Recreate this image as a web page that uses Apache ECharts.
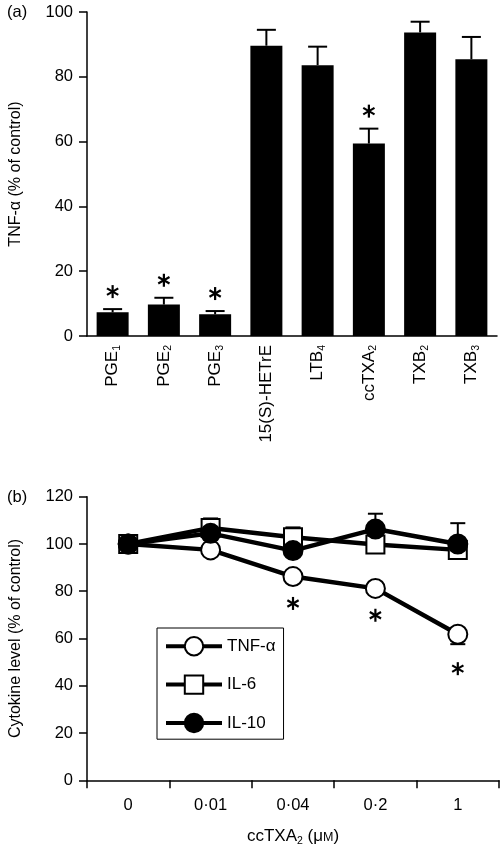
<!DOCTYPE html>
<html><head><meta charset="utf-8">
<script src="https://cdn.jsdelivr.net/npm/echarts@6/dist/echarts.min.js"></script>
<style>html,body{margin:0;padding:0;background:#fff}#c{width:500px;height:850px}</style>
</head><body><div id="c"></div>
<script>
// ---- Panel (a) data ----
const barCategories = ['PGE_1', 'PGE_2', 'PGE_3', '15(S)-HETrE', 'LTB_4', 'ccTXA_2', 'TXB_2', 'TXB_3'];
const barValues = [7.3, 9.7, 6.7, 89.6, 83.6, 59.4, 93.7, 85.4];
const barErrors = [1.0, 2.1, 1.0, 4.9, 5.7, 4.6, 3.3, 6.9];
const barSignificant = [1, 1, 1, 0, 0, 1, 0, 0];
const yTicksA = [0, 20, 40, 60, 80, 100];

// ---- Panel (b) data ----
const doseLabels = ['0', '0·01', '0·04', '0·2', '1'];
const tnfValues = [100, 97.5, 86.2, 81.2, 61.8];
const tnfErrors = [1, 1, 1, 1, 4.2];
const il6Values = [100, 106.8, 102.8, 99.8, 97.5];
const il6Errors = [1, 4.0, 4.2, 1, 1];
const il10Values = [100, 104.5, 97.2, 106.3, 100];
const il10Errors = [1, 1, 1, 6.5, 8.8];
const tnfSignificant = [0, 0, 1, 1, 1];
const yTicksB = [0, 20, 40, 60, 80, 100, 120];

const FONT = '"Liberation Sans", Arial, Helvetica, sans-serif';

function subLabel(v) {
  const parts = v.split('_');
  let s = '{m|' + parts[0] + '}';
  if (parts[1]) s += '{s|' + parts[1] + '}';
  return s;
}

function asteriskShape(cx, cy) {
  const r = 6.5, ch = [];
  for (let k = 0; k < 3; k++) {
    const a = Math.PI / 2 + k * Math.PI / 3;
    ch.push({type: 'line', shape: {x1: cx - r * Math.cos(a), y1: cy - r * Math.sin(a), x2: cx + r * Math.cos(a), y2: cy + r * Math.sin(a)},
      style: {stroke: '#000', lineWidth: 2.2}});
  }
  return ch;
}

function errBar(dir, halfCap) {
  return function (params, api) {
    const x = api.value(0), v = api.value(1), e = api.value(2);
    const p0 = api.coord([x, v]);
    const p1 = api.coord([x, v + dir * e]);
    return {type: 'group', children: [
      {type: 'line', shape: {x1: p0[0], y1: p0[1], x2: p1[0], y2: p1[1]}, style: {stroke: '#000', lineWidth: 2}},
      {type: 'line', shape: {x1: p1[0] - halfCap, y1: p1[1], x2: p1[0] + halfCap, y2: p1[1]}, style: {stroke: '#000', lineWidth: 2}}
    ]};
  };
}

function starRender(dir, offset) {
  return function (params, api) {
    if (!api.value(3)) return null;
    const x = api.value(0), v = api.value(1), e = api.value(2);
    const p = api.coord([x, v + dir * e]);
    return {type: 'group', children: asteriskShape(p[0], p[1] - dir * offset)};
  };
}

const axisLineStyle = {lineStyle: {color: '#000', width: 1.5}};
const tickLabelStyle = {color: '#000', fontSize: 16.5, fontFamily: FONT};

const chart = echarts.init(document.getElementById('c'), null, {renderer: 'canvas'});
chart.setOption({
  animation: false,
  backgroundColor: '#fff',
  textStyle: {fontFamily: FONT},
  graphic: [
    {type: 'text', left: 7, top: 4, style: {text: '(a)', fontSize: 16.5, fill: '#000', fontFamily: FONT}},
    {type: 'text', left: 7, top: 489, style: {text: '(b)', fontSize: 16.5, fill: '#000', fontFamily: FONT}}
  ],
  grid: [
    {left: 84, top: 12, width: 413, height: 324},
    {left: 84, top: 496.7, width: 415, height: 283.6}
  ],
  xAxis: [
    {type: 'category', gridIndex: 0, data: barCategories,
      axisLine: axisLineStyle, axisTick: {show: false},
      axisLabel: {rotate: 90, margin: 9, interval: 0, formatter: subLabel,
        rich: {
          m: {fontSize: 17, lineHeight: 20, color: '#000', fontFamily: FONT},
          s: {fontSize: 10.5, lineHeight: 10, verticalAlign: 'bottom', color: '#000', fontFamily: FONT}
        }}},
    {type: 'category', gridIndex: 1, data: doseLabels, boundaryGap: true,
      axisLine: axisLineStyle, axisTick: {show: true, length: 8, inside: false, lineStyle: {color: '#000', width: 1.5}},
      axisLabel: Object.assign({margin: 17, interval: 0}, tickLabelStyle),
      name: '{m|ccTXA}{s|2}{m| (μ}{k|M}{m|)}', nameLocation: 'middle', nameGap: 46,
      nameTextStyle: {rich: {
        m: {fontSize: 17, lineHeight: 20, color: '#000', fontFamily: FONT},
        k: {fontSize: 12.5, lineHeight: 20, color: '#000', fontFamily: FONT, padding: [2, 0, 0, 0]},
        s: {fontSize: 10.5, lineHeight: 10, verticalAlign: 'bottom', color: '#000', fontFamily: FONT}
      }}}
  ],
  yAxis: [
    {type: 'value', gridIndex: 0, min: yTicksA[0], max: yTicksA[yTicksA.length - 1], interval: yTicksA[1] - yTicksA[0],
      splitLine: {show: false}, axisLine: {show: true, lineStyle: {color: '#000', width: 1.5}},
      axisTick: {show: true, length: 8, lineStyle: {color: '#000', width: 1.5}},
      axisLabel: Object.assign({margin: 14}, tickLabelStyle),
      name: 'TNF-α (% of control)', nameLocation: 'middle', nameGap: 63,
      nameTextStyle: {fontSize: 16, color: '#000', fontFamily: FONT}},
    {type: 'value', gridIndex: 1, min: yTicksB[0], max: yTicksB[yTicksB.length - 1], interval: yTicksB[1] - yTicksB[0],
      splitLine: {show: false}, axisLine: {show: true, lineStyle: {color: '#000', width: 1.5}},
      axisTick: {show: true, length: 8, lineStyle: {color: '#000', width: 1.5}},
      axisLabel: Object.assign({margin: 14}, tickLabelStyle),
      name: 'Cytokine level (% of control)', nameLocation: 'middle', nameGap: 63,
      nameTextStyle: {fontSize: 16, color: '#000', fontFamily: FONT}}
  ],
  legend: {
    orient: 'vertical', left: 157, top: 628, itemWidth: 56, itemHeight: 23, itemGap: 18,
    padding: [8, 8, 6, 7], borderColor: '#000', borderWidth: 1,
    textStyle: {fontSize: 17, color: '#000', fontFamily: FONT},
    lineStyle: {width: 4, color: '#000'}, itemStyle: {borderWidth: 2, borderColor: '#000'},
    data: ['TNF-α', 'IL-6', 'IL-10']
  },
  series: [
    {type: 'custom', xAxisIndex: 0, yAxisIndex: 0, z: 1, renderItem: errBar(1, 9.5),
      data: barValues.map((v, i) => [i, v, barErrors[i]]), silent: true},
    {type: 'bar', xAxisIndex: 0, yAxisIndex: 0, data: barValues, barWidth: 32, itemStyle: {color: '#000'}, z: 2},
    {type: 'custom', xAxisIndex: 0, yAxisIndex: 0, z: 3, renderItem: starRender(1, 17.5),
      data: barValues.map((v, i) => [i, v, barErrors[i], barSignificant[i]]), silent: true},

    {type: 'custom', xAxisIndex: 1, yAxisIndex: 1, z: 1, renderItem: errBar(-1, 7.5),
      data: tnfValues.map((v, i) => [i, v, tnfErrors[i]]), silent: true},
    {type: 'custom', xAxisIndex: 1, yAxisIndex: 1, z: 1, renderItem: errBar(1, 7.5),
      data: il6Values.map((v, i) => [i, v, il6Errors[i]]), silent: true},
    {type: 'custom', xAxisIndex: 1, yAxisIndex: 1, z: 1, renderItem: errBar(1, 7.5),
      data: il10Values.map((v, i) => [i, v, il10Errors[i]]), silent: true},
    {type: 'custom', xAxisIndex: 1, yAxisIndex: 1, z: 3, renderItem: starRender(-1, 24.5),
      data: tnfValues.map((v, i) => [i, v, tnfErrors[i], tnfSignificant[i]]), silent: true},

    {name: 'TNF-α', type: 'line', xAxisIndex: 1, yAxisIndex: 1, data: tnfValues, z: 2,
      symbol: 'circle', symbolSize: 19, showAllSymbol: true,
      lineStyle: {color: '#000', width: 4.5},
      itemStyle: {color: '#fff', borderColor: '#000', borderWidth: 2}},
    {name: 'IL-6', type: 'line', xAxisIndex: 1, yAxisIndex: 1, data: il6Values, z: 2,
      symbol: 'rect', symbolSize: 18, showAllSymbol: true,
      lineStyle: {color: '#000', width: 4.5},
      itemStyle: {color: '#fff', borderColor: '#000', borderWidth: 2}},
    {name: 'IL-10', type: 'line', xAxisIndex: 1, yAxisIndex: 1, data: il10Values, z: 2,
      symbol: 'circle', symbolSize: 19, showAllSymbol: true,
      lineStyle: {color: '#000', width: 4.5},
      itemStyle: {color: '#000', borderColor: '#000', borderWidth: 2}}
  ]
});
</script>
</body></html>
